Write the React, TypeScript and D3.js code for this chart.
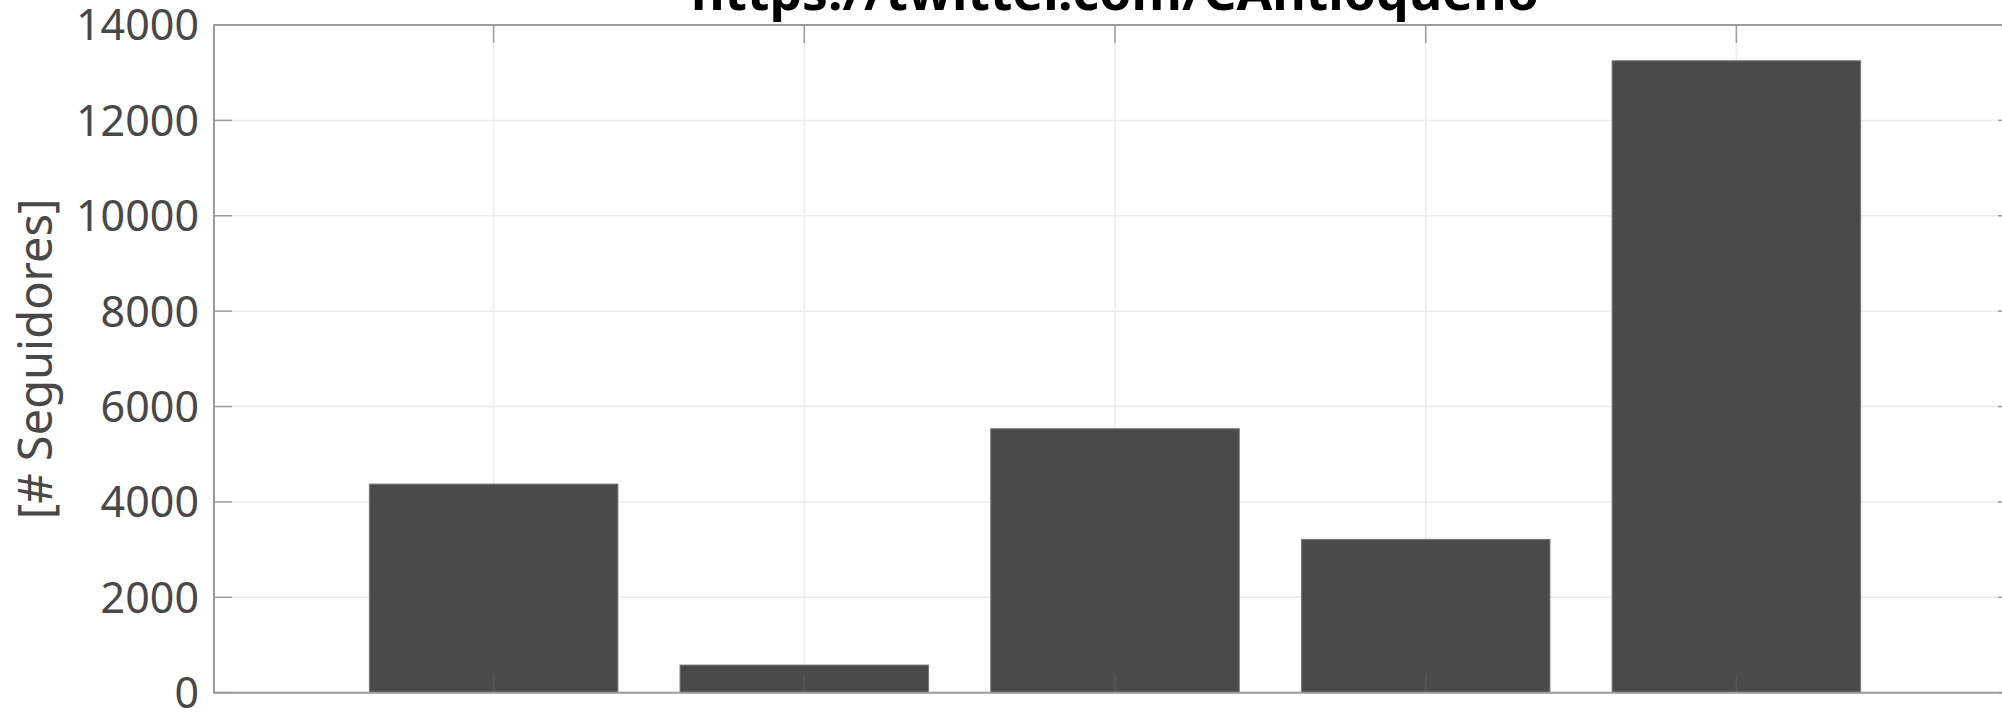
import React from "react";
import * as d3 from "d3";

const categories = [1, 2, 3, 4, 5];
const followers = [4375, 580, 5535, 3215, 13250];
const yTicks = [0, 2000, 4000, 6000, 8000, 10000, 12000, 14000];
const titleText = "https://twitter.com/CAntioqueño";
const yLabel = "[# Seguidores]";

const W = 2002;
const H = 712;

export default function App() {
  const left = 214;
  const right = 2016;
  const top = 25;
  const bottom = 692.7;
  const x = d3.scaleLinear().domain([0.1, 5.9]).range([left, right]);
  const y = d3.scaleLinear().domain([0, 14000]).range([bottom, top]);
  const bw = x(0.8) - x(0);
  const tickLen = 18;
  const font = "'Noto Sans', 'Open Sans', sans-serif";
  const axisColor = "#9c9c9c";
  const gridColor = "#ececec";
  const textColor = "#484848";

  return (
    <svg
      width={W}
      height={H}
      style={{ position: "absolute", left: 0, top: 0, background: "#fff" }}
    >
      <rect x={0} y={0} width={W} height={H} fill="#fff" />
      {yTicks.map((t) => (
        <line key={"gy" + t} x1={left} x2={right} y1={y(t)} y2={y(t)} stroke={gridColor} strokeWidth={1.5} />
      ))}
      {categories.map((c) => (
        <line key={"gx" + c} x1={x(c)} x2={x(c)} y1={top} y2={bottom} stroke={gridColor} strokeWidth={1.5} />
      ))}
      {categories.map((c, i) => (
        <rect
          key={"b" + c}
          x={x(c) - bw / 2}
          y={y(followers[i])}
          width={bw}
          height={bottom - y(followers[i])}
          fill="#4a4a4a"
          stroke="#7a7a7a"
          strokeWidth={1}
        />
      ))}
      {categories.map((c) => (
        <line key={"xtb" + c} x1={x(c)} x2={x(c)} y1={bottom} y2={bottom - tickLen} stroke="#555" strokeWidth={1.5} />
      ))}
      {categories.map((c) => (
        <line key={"xtt" + c} x1={x(c)} x2={x(c)} y1={top} y2={top + tickLen} stroke={axisColor} strokeWidth={1.5} />
      ))}
      {yTicks.map((t) => (
        <g key={"yt" + t}>
          <line x1={left} x2={left + tickLen} y1={y(t)} y2={y(t)} stroke={axisColor} strokeWidth={1.5} />
          <line x1={right} x2={right - tickLen} y1={y(t)} y2={y(t)} stroke={axisColor} strokeWidth={1.5} />
        </g>
      ))}
      <rect x={left} y={top} width={right - left} height={bottom - top} fill="none" stroke={axisColor} strokeWidth={2} />
      {yTicks.map((t) => (
        <text
          key={"yl" + t}
          x={left - 15}
          y={y(t)}
          dy="0.36em"
          textAnchor="end"
          fontFamily={font}
          fontSize={43}
          fill={textColor}
        >
          {t}
        </text>
      ))}
      <text
        transform={`translate(${52},${(top + bottom) / 2}) rotate(-90)`}
        textAnchor="middle"
        fontFamily={font}
        fontSize={47}
        fill={textColor}
      >
        {yLabel}
      </text>
      <text
        x={(left + right) / 2}
        y={10}
        textAnchor="middle"
        fontFamily={font}
        fontWeight="bold"
        fontSize={50}
        textLength={848}
        lengthAdjust="spacingAndGlyphs"
        fill="#000"
      >
        {titleText}
      </text>
    </svg>
  );
}
